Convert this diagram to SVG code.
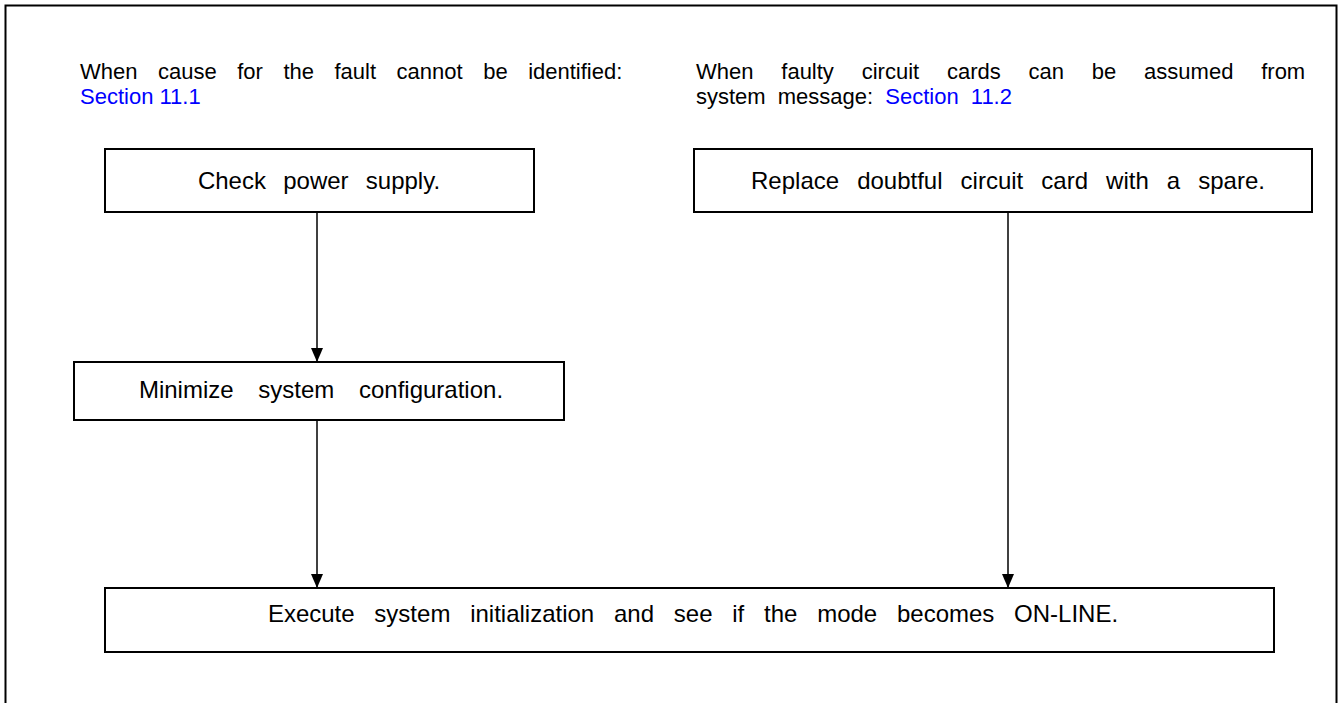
<svg xmlns="http://www.w3.org/2000/svg" width="1338" height="703" viewBox="0 0 1338 703">
<style>
text{font-family:"Liberation Sans",Arial,sans-serif;font-size:24px;fill:#000}
.lbl{font-size:22px}
.link{fill:#0000ff}
.box{fill:#fff;stroke:#000;stroke-width:2}
.frame{fill:none;stroke:#000;stroke-width:2}
.conn{stroke:#000;stroke-width:1.5;fill:none}
</style>
<defs>
<marker id="ah" markerWidth="14" markerHeight="12" refX="14" refY="6" orient="auto" markerUnits="userSpaceOnUse" viewBox="0 0 14 12">
<path d="M0,0 L14,6 L0,12 Z" fill="#000"/>
</marker>
</defs>
<rect class="frame" x="5.5" y="5.5" width="1331" height="710"/>
<g id="label-left">
<text class="lbl" x="80" y="79" word-spacing="14.4">When cause for the fault cannot be identified:</text>
<text class="lbl link" x="80" y="104">Section 11.1</text>
</g>
<g id="label-right">
<text class="lbl" x="696" y="79" word-spacing="21.7">When faulty circuit cards can be assumed from</text>
<text class="lbl" x="696" y="104" word-spacing="6">system message: <tspan class="link">Section 11.2</tspan></text>
</g>
<g id="connectors">
<line class="conn" x1="317" y1="212" x2="317" y2="362" marker-end="url(#ah)"/>
<line class="conn" x1="317" y1="420" x2="317" y2="588" marker-end="url(#ah)"/>
<line class="conn" x1="1008" y1="212" x2="1008" y2="588" marker-end="url(#ah)"/>
</g>
<g id="n1">
<rect class="box" x="105" y="149" width="429" height="63"/>
<text x="319" y="189" text-anchor="middle" word-spacing="10.6">Check power supply.</text>
</g>
<g id="n2">
<rect class="box" x="694" y="149" width="618" height="63"/>
<text x="1008" y="189" text-anchor="middle" word-spacing="11.4">Replace doubtful circuit card with a spare.</text>
</g>
<g id="n3">
<rect class="box" x="74" y="362" width="490" height="58"/>
<text x="321" y="398" text-anchor="middle" word-spacing="18">Minimize system configuration.</text>
</g>
<g id="n4">
<rect class="box" x="105" y="588" width="1169" height="64"/>
<text x="693" y="622" text-anchor="middle" word-spacing="13.1">Execute system initialization and see if the mode becomes ON-LINE.</text>
</g>
</svg>
